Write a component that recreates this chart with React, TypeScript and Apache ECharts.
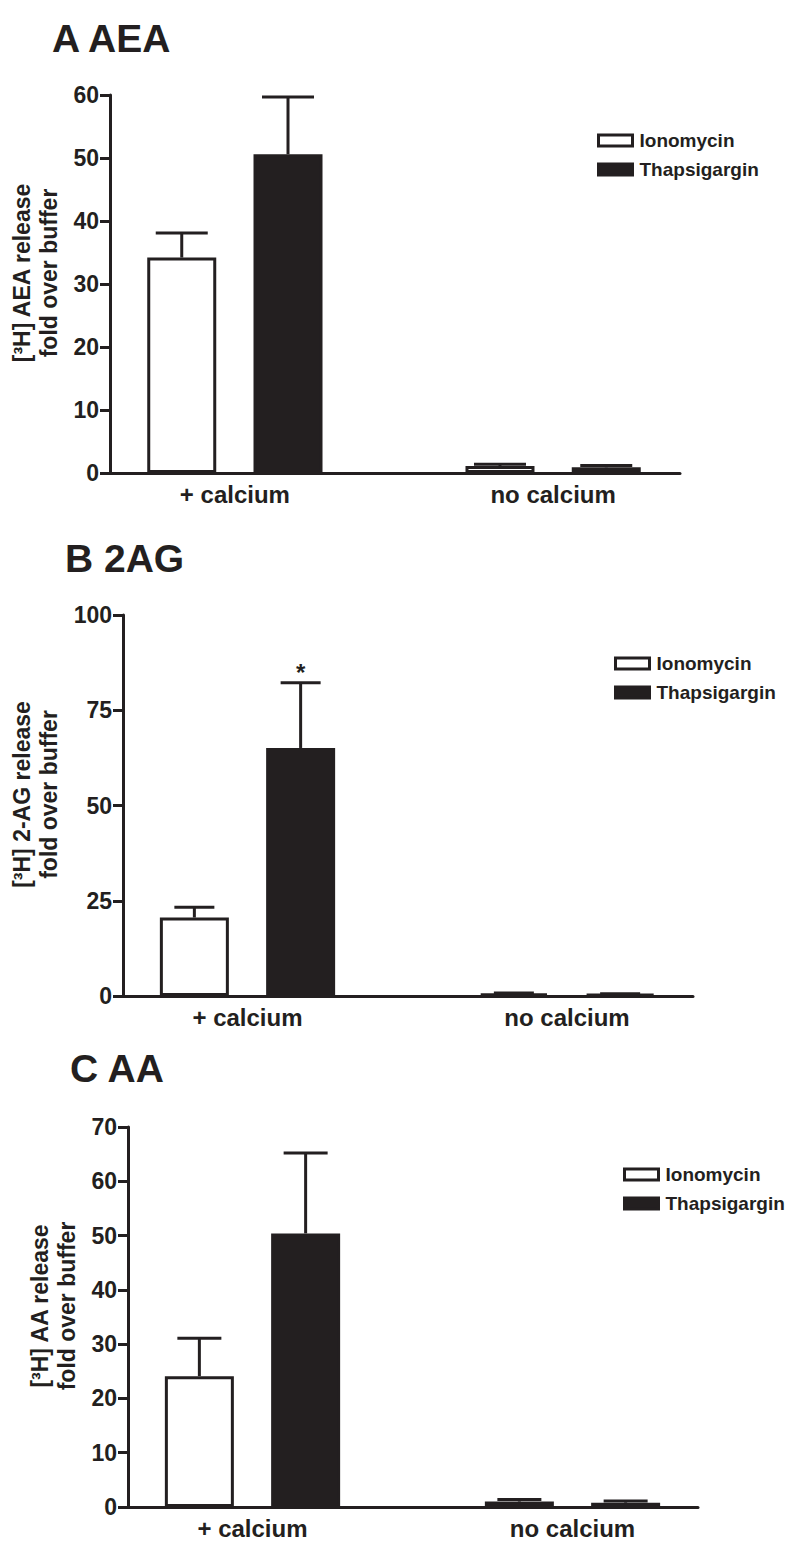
import React, { useEffect, useRef } from "react";
import * as echarts from "echarts";

// ---------- data ----------
const categories = ["+ calcium", "no calcium"];
const seriesNames = ["Ionomycin", "Thapsigargin"];

const panelTitles = ["A AEA", "B 2AG", "C AA"];
const yNames = [
  "[³H] AEA release\nfold over buffer",
  "[³H] 2-AG release\nfold over buffer",
  "[³H] AA release\nfold over buffer",
];
const yMax = [60, 100, 70];
const yInterval = [10, 25, 10];

// AEA
const aeaIono = [34.2, 1.1];
const aeaIonoErr = [3.9, 0.3];
const aeaThaps = [50.6, 0.9];
const aeaThapsErr = [9.1, 0.3];
// 2-AG
const agIono = [20.6, 0.7];
const agIonoErr = [2.7, 0.1];
const agThaps = [65.1, 0.5];
const agThapsErr = [17.1, 0.1];
const agThapsSig = ["*", ""];
// AA
const aaIono = [24.1, 1.0];
const aaIonoErr = [7.0, 0.4];
const aaThaps = [50.4, 0.8];
const aaThapsErr = [14.8, 0.3];

const noSig = ["", ""];

const panelData = [
  { iono: aeaIono, ionoErr: aeaIonoErr, thaps: aeaThaps, thapsErr: aeaThapsErr, ionoSig: noSig, thapsSig: noSig },
  { iono: agIono, ionoErr: agIonoErr, thaps: agThaps, thapsErr: agThapsErr, ionoSig: noSig, thapsSig: agThapsSig },
  { iono: aaIono, ionoErr: aaIonoErr, thaps: aaThaps, thapsErr: aaThapsErr, ionoSig: noSig, thapsSig: noSig },
];

// ---------- layout / style ----------
const INK = "#231f20";
const FONT = "'Liberation Sans', Arial, Helvetica, sans-serif";
const BAR_W = 69;
const BAR_GAP = 0.54;
const BORDER = 3;
const HALF_PITCH = (BAR_W + BAR_W * BAR_GAP) / 2;

const layouts = [
  { axisL: 110, axisR: 680, top: 95, bottom: 473, dataL: 75.75, dataR: 712.25, legL: 597, legT: 131, titleX: 52, titleY: 38.5, nameGap: 42, cap: 26 },
  { axisL: 123, axisR: 693, top: 615, bottom: 996, dataL: 87.75, dataR: 726.75, legL: 614, legT: 654, titleX: 65, titleY: 558, nameGap: 53, cap: 20 },
  { axisL: 128, axisR: 698, top: 1127, bottom: 1507, dataL: 92.5, dataR: 732.5, legL: 623, legT: 1165, titleX: 70, titleY: 1068.5, nameGap: 40, cap: 22 },
];

const W = 800;
const H = 1553;

function errorSeries(p: number, means: number[], errs: number[], sig: string[], dir: number, cap: number) {
  return {
    type: "custom",
    xAxisIndex: 2 * p,
    yAxisIndex: 2 * p,
    z: 5,
    silent: true,
    clip: false,
    data: means.map((m, i) => [i, m, errs[i]]),
    renderItem: (params: any, api: any) => {
      const x = api.value(0);
      const m = api.value(1);
      const e = api.value(2);
      const base = api.coord([x, m]);
      const top = api.coord([x, m + e]);
      const cx = base[0] + dir * HALF_PITCH;
      const children: any[] = [
        {
          type: "line",
          shape: { x1: cx, y1: base[1], x2: cx, y2: top[1] },
          style: { stroke: INK, lineWidth: 3 },
        },
        {
          type: "line",
          shape: { x1: cx - cap, y1: top[1], x2: cx + cap, y2: top[1] },
          style: { stroke: INK, lineWidth: 3 },
        },
      ];
      const s = sig[params.dataIndex];
      if (s) {
        children.push({
          type: "text",
          style: {
            text: s,
            x: cx,
            y: top[1] - 10,
            align: "center",
            verticalAlign: "middle",
            font: `bold 24px ${FONT}`,
            fill: INK,
          },
        });
      }
      return { type: "group", children };
    },
  };
}

function buildOption() {
  const grid: any[] = [];
  const xAxis: any[] = [];
  const yAxis: any[] = [];
  const series: any[] = [];
  const legend: any[] = [];
  const graphic: any[] = [];

  layouts.forEach((L, p) => {
    const height = L.bottom - L.top;
    grid.push({ left: L.dataL, width: L.dataR - L.dataL, top: L.top, height, outerBoundsMode: "none" });
    grid.push({ left: L.axisL, width: L.axisR - L.axisL, top: L.top, height, outerBoundsMode: "none" });

    xAxis.push({
      type: "category",
      gridIndex: 2 * p,
      data: categories,
      axisLine: { show: false },
      axisTick: { show: false },
      axisLabel: { fontFamily: FONT, fontWeight: "bold", fontSize: 24, color: INK, margin: 9 },
    });
    xAxis.push({
      type: "category",
      gridIndex: 2 * p + 1,
      data: categories,
      axisLine: { show: true, lineStyle: { color: INK, width: 3, cap: "round" } },
      axisTick: { show: false },
      axisLabel: { show: false },
    });
    yAxis.push({
      type: "value",
      gridIndex: 2 * p,
      min: 0,
      max: yMax[p],
      interval: yInterval[p],
      show: false,
    });
    yAxis.push({
      type: "value",
      gridIndex: 2 * p + 1,
      min: 0,
      max: yMax[p],
      interval: yInterval[p],
      axisLine: { show: true, lineStyle: { color: INK, width: 3 } },
      axisTick: { show: true, length: 10, lineStyle: { color: INK, width: 3 } },
      axisLabel: { fontFamily: FONT, fontWeight: "bold", fontSize: 23, color: INK, margin: 11 },
      splitLine: { show: false },
      name: yNames[p],
      nameLocation: "middle",
      nameGap: L.nameGap,
      nameRotate: 90,
      nameTextStyle: {
        fontFamily: FONT,
        fontWeight: "bold",
        fontSize: 23,
        lineHeight: 27,
        color: INK,
        padding: [0, 0, 0, 22],
      },
    });

    const d = panelData[p];
    series.push({
      name: seriesNames[0],
      type: "bar",
      xAxisIndex: 2 * p,
      yAxisIndex: 2 * p,
      data: d.iono,
      barWidth: BAR_W,
      barGap: `${BAR_GAP * 100}%`,
      itemStyle: { color: "#ffffff", borderColor: INK, borderWidth: BORDER },
      silent: true,
    });
    series.push({
      name: seriesNames[1],
      type: "bar",
      xAxisIndex: 2 * p,
      yAxisIndex: 2 * p,
      data: d.thaps,
      barWidth: BAR_W,
      barGap: `${BAR_GAP * 100}%`,
      itemStyle: { color: INK, borderColor: INK, borderWidth: BORDER },
      silent: true,
    });
    series.push(errorSeries(p, d.iono, d.ionoErr, d.ionoSig, -1, L.cap));
    series.push(errorSeries(p, d.thaps, d.thapsErr, d.thapsSig, 1, L.cap));

    legend.push({
      data: seriesNames,
      orient: "vertical",
      left: L.legL,
      top: L.legT,
      padding: 0,
      itemWidth: 34,
      itemHeight: 11,
      itemGap: 10,
      icon: "rect",
      selectedMode: false,
      itemStyle: { borderWidth: 3, borderColor: INK },
      textStyle: { fontFamily: FONT, fontWeight: "bold", fontSize: 19, color: INK, padding: [0, 0, 0, 2] },
    });

    graphic.push({
      type: "text",
      x: L.titleX,
      y: L.titleY,
      style: {
        text: panelTitles[p],
        font: `bold 39px ${FONT}`,
        fill: INK,
        align: "left",
        verticalAlign: "middle",
      },
    });
  });

  return {
    animation: false,
    backgroundColor: "#ffffff",
    grid,
    xAxis,
    yAxis,
    series,
    legend,
    graphic,
  };
}

export default function App() {
  const ref = useRef<HTMLDivElement>(null);
  useEffect(() => {
    if (!ref.current) return;
    const chart = echarts.init(ref.current, undefined, { renderer: "svg", width: W, height: H });
    chart.setOption(buildOption() as any);
    return () => {
      chart.dispose();
    };
  }, []);
  return (
    <div
      ref={ref}
      style={{ position: "absolute", left: 0, top: 0, width: W, height: H, background: "#fff" }}
    />
  );
}
